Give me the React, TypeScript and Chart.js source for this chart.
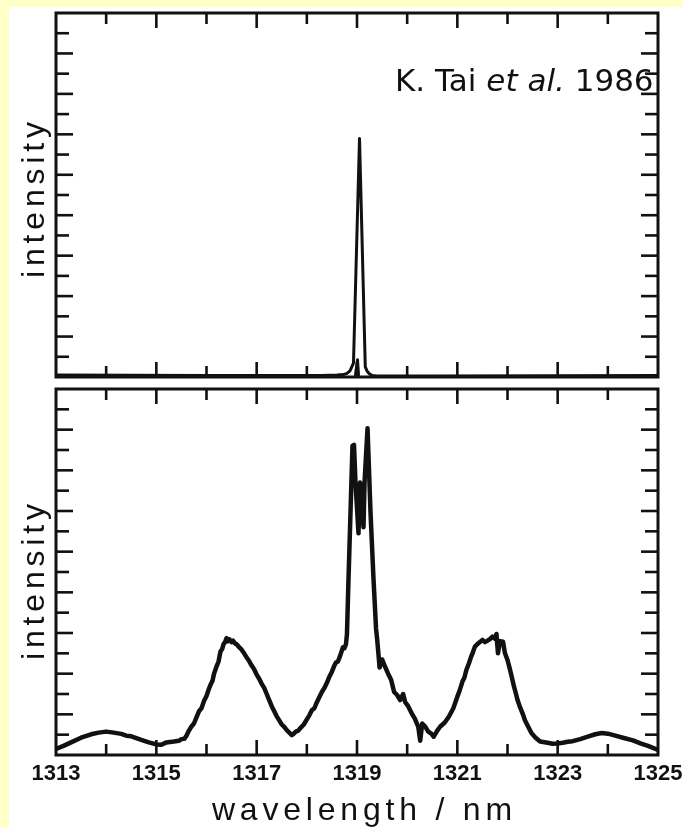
import { useEffect, useRef } from 'react';
import { Chart, registerables } from 'chart.js';

Chart.register(...registerables);

const INK = '#111111';
const PAGE_YELLOW = '#ffffc8';

// Axis ranges shared by both panels
const WAVELENGTH_MIN = 1313;
const WAVELENGTH_MAX = 1325;
const INTENSITY_MIN = 0;
const INTENSITY_MAX = 18;
const WAVELENGTH_TICK_LABELS = [1313, 1315, 1317, 1319, 1321, 1323, 1325];

// Upper panel: single-mode emission line (wavelength nm, intensity)
const singleLine: [number, number][] = [
  [1313, 0.1], [1316, 0.08], [1318.3, 0.08], [1318.6, 0.1], [1318.73, 0.12],
  [1318.8, 0.18], [1318.86, 0.3], [1318.93, 0.69], [1319.05, 11.8], [1319.165, 0.5],
  [1319.2, 0.3], [1319.25, 0.15], [1319.3, 0.08], [1319.4, 0.05], [1320.5, 0.05],
  [1325, 0.08],
];
const singleInner: [number, number][] = [
  [1318.97, 0.1], [1319.01, 0.85], [1319.03, 0.1],
];

// Lower panel: multimode spectrum, side bands and wings
const multiLeftWing: [number, number][] = [
  [1313.0, 0.3], [1313.15, 0.45], [1313.3, 0.62], [1313.5, 0.85], [1313.7, 1.02],
  [1313.85, 1.1], [1314.0, 1.15], [1314.15, 1.1], [1314.3, 1.04], [1314.4, 0.95],
  [1314.5, 0.92], [1314.7, 0.74], [1314.85, 0.62], [1315.0, 0.52], [1315.1, 0.5],
  [1315.2, 0.62], [1315.35, 0.66], [1315.45, 0.7],
];
const multiLeftBand: [number, number][] = [
  [1315.5, 0.78], [1315.56, 0.8], [1315.6, 0.95], [1315.65, 1.2], [1315.7, 1.4],
  [1315.75, 1.55], [1315.8, 1.85], [1315.85, 2.15], [1315.9, 2.3], [1315.95, 2.65],
  [1316.0, 2.9], [1316.04, 3.2], [1316.08, 3.45], [1316.12, 3.65], [1316.15, 4.0],
  [1316.2, 4.35], [1316.24, 4.6], [1316.28, 5.1], [1316.31, 5.2], [1316.34, 5.45],
  [1316.37, 5.55], [1316.4, 5.75], [1316.43, 5.6], [1316.46, 5.68], [1316.5, 5.55],
  [1316.53, 5.62], [1316.57, 5.48], [1316.6, 5.45], [1316.65, 5.3], [1316.7, 5.18],
  [1316.75, 5.0], [1316.8, 4.8], [1316.85, 4.62], [1316.9, 4.4], [1316.95, 4.22],
  [1317.0, 3.95], [1317.05, 3.75], [1317.1, 3.5], [1317.15, 3.3], [1317.2, 3.0],
  [1317.25, 2.7], [1317.3, 2.4], [1317.35, 2.15], [1317.4, 1.9], [1317.45, 1.7],
  [1317.5, 1.5], [1317.55, 1.38], [1317.6, 1.22], [1317.65, 1.1], [1317.7, 0.98],
];
const multiCentre: [number, number][] = [
  [1317.74, 1.05], [1317.78, 1.15], [1317.83, 1.2], [1317.88, 1.35], [1317.94, 1.5],
  [1318.0, 1.75], [1318.05, 1.95], [1318.1, 2.2], [1318.15, 2.3], [1318.2, 2.6],
  [1318.25, 2.85], [1318.3, 3.1], [1318.35, 3.3], [1318.4, 3.55], [1318.45, 3.85],
  [1318.5, 4.1], [1318.54, 4.35], [1318.58, 4.55], [1318.62, 4.6], [1318.66, 4.85],
  [1318.72, 5.3], [1318.75, 5.25], [1318.78, 5.45], [1318.8, 5.95], [1318.83, 8.6],
  [1318.91, 15.2], [1318.94, 15.25], [1318.97, 13.4], [1319.03, 10.9], [1319.06, 13.4],
  [1319.09, 12.8], [1319.13, 11.2], [1319.15, 13.4], [1319.21, 16.07], [1319.27, 11.9],
  [1319.33, 8.6], [1319.38, 6.2], [1319.4, 5.74], [1319.43, 4.9], [1319.45, 4.3],
  [1319.5, 4.7], [1319.55, 4.4], [1319.62, 4.0], [1319.68, 3.7], [1319.74, 3.1],
  [1319.8, 2.95], [1319.86, 2.7], [1319.92, 3.0], [1319.96, 2.6], [1320.02, 2.4],
  [1320.09, 2.05], [1320.15, 1.8], [1320.22, 1.4], [1320.26, 0.7], [1320.3, 1.55],
  [1320.36, 1.4], [1320.42, 1.15], [1320.48, 1.05], [1320.53, 0.9], [1320.6, 1.2],
  [1320.66, 1.4], [1320.75, 1.6], [1320.83, 1.88], [1320.92, 2.3],
];
const multiRightBand: [number, number][] = [
  [1321.0, 2.87], [1321.05, 3.2], [1321.1, 3.6], [1321.14, 3.8], [1321.18, 4.18],
  [1321.23, 4.5], [1321.27, 4.8], [1321.31, 5.05], [1321.35, 5.33], [1321.42, 5.5],
  [1321.5, 5.66], [1321.55, 5.55], [1321.6, 5.62], [1321.65, 5.7], [1321.7, 5.82],
  [1321.75, 5.72], [1321.78, 5.95], [1321.81, 5.0], [1321.85, 5.6], [1321.91, 5.57],
  [1321.95, 5.0], [1322.0, 4.67], [1322.04, 4.3], [1322.07, 4.0], [1322.13, 3.36],
  [1322.17, 3.0], [1322.2, 2.7], [1322.25, 2.35], [1322.3, 2.05], [1322.35, 1.7],
  [1322.4, 1.45], [1322.48, 1.07], [1322.56, 0.85], [1322.65, 0.66],
];
const multiRightWing: [number, number][] = [
  [1322.8, 0.6], [1322.9, 0.55], [1323.0, 0.57], [1323.1, 0.6], [1323.2, 0.65],
  [1323.3, 0.68], [1323.45, 0.78], [1323.6, 0.9], [1323.75, 1.02], [1323.88, 1.08],
  [1324.0, 1.05], [1324.15, 0.95], [1324.3, 0.85], [1324.5, 0.72], [1324.65, 0.57],
  [1324.8, 0.45], [1325.0, 0.25],
];

const toPoints = (rows: [number, number][]) => rows.map(([x, y]) => ({ x, y }));

// Closed frame with inward ticks on all four sides (alternating lengths)
const frameTicks = {
  id: 'frameTicks',
  afterDatasetsDraw(chart: any) {
    const { ctx, chartArea: a, scales } = chart;
    const xs = scales.x;
    const ys = scales.y;
    const seg = (x1: number, y1: number, x2: number, y2: number) => {
      ctx.beginPath();
      ctx.moveTo(x1, y1);
      ctx.lineTo(x2, y2);
      ctx.stroke();
    };
    ctx.save();
    ctx.strokeStyle = INK;
    ctx.lineCap = 'butt';
    ctx.lineWidth = 2.6;
    xs.ticks.forEach((t: any) => {
      if (t.value <= xs.min || t.value >= xs.max) return;
      const px = xs.getPixelForValue(t.value);
      const len = Math.round(t.value - xs.min) % 2 === 0 ? 15 : 11;
      seg(px, a.bottom, px, a.bottom - len);
      seg(px, a.top, px, a.top + len);
    });
    ys.ticks.forEach((t: any) => {
      if (t.value <= ys.min || t.value >= ys.max) return;
      const py = ys.getPixelForValue(t.value);
      const k = Math.round(ys.max - t.value);
      const len = k % 2 === 0 ? 17 : 13;
      seg(a.left, py, a.left + len, py);
      seg(a.right, py, a.right - len, py);
    });
    ctx.lineWidth = 3;
    ctx.lineJoin = 'miter';
    ctx.strokeRect(a.left, a.top, a.right - a.left, a.bottom - a.top);
    ctx.restore();
  },
};

type PanelText = {
  yTitle: string;
  yTitleShift: number;
  xTitle?: string;
  xTitleX?: number;
  xTitleBaseline?: number;
  credit?: boolean;
};

const TITLE_FONT = '32px "Liberation Sans", Arial, sans-serif';
const TITLE_SPACING = 4.8;

const makeTextPlugin = (cfg: PanelText) => ({
  id: 'panelText',
  afterDraw(chart: any) {
    const { ctx, chartArea: a } = chart;
    ctx.save();
    ctx.fillStyle = INK;
    ctx.font = TITLE_FONT;
    ctx.letterSpacing = TITLE_SPACING + 'px';
    ctx.textAlign = 'center';
    ctx.textBaseline = 'alphabetic';

    // vertical axis title
    ctx.save();
    ctx.translate(44, (a.top + a.bottom) / 2 + cfg.yTitleShift);
    ctx.rotate(-Math.PI / 2);
    ctx.fillText(cfg.yTitle, TITLE_SPACING / 2, 0);
    ctx.restore();

    // horizontal axis title
    if (cfg.xTitle) {
      ctx.fillText(cfg.xTitle, (cfg.xTitleX ?? 0) + TITLE_SPACING / 2, cfg.xTitleBaseline ?? 0);
    }

    // source note
    if (cfg.credit) {
      ctx.letterSpacing = '0px';
      ctx.textAlign = 'left';
      const upright = '31px "DejaVu Sans", sans-serif';
      const slanted = 'italic 31px "DejaVu Sans", sans-serif';
      const parts: [string, string][] = [
        ['K. Tai ', upright],
        ['et al.', slanted],
        [' 1986', upright],
      ];
      let x = 395;
      for (const [text, font] of parts) {
        ctx.font = font;
        ctx.fillText(text, x, 91);
        x += ctx.measureText(text).width;
      }
    }
    ctx.restore();
  },
});

const baseOptions = (showLabels: boolean, xAxisHeight: number, padding: any) => ({
  responsive: false,
  animation: false as const,
  devicePixelRatio: 1,
  events: [] as any[],
  layout: { padding },
  plugins: {
    legend: { display: false },
    tooltip: { enabled: false },
    title: { display: false },
  },
  elements: {
    point: { radius: 0 },
    line: { tension: 0, borderJoinStyle: 'round' as const, borderCapStyle: 'round' as const },
  },
  scales: {
    x: {
      type: 'linear' as const,
      min: WAVELENGTH_MIN,
      max: WAVELENGTH_MAX,
      grid: { display: false, drawTicks: false },
      border: { display: false },
      ticks: {
        display: showLabels,
        stepSize: 1,
        autoSkip: false,
        maxRotation: 0,
        padding: 6,
        color: INK,
        font: { family: '"Liberation Sans", Arial, sans-serif', size: 22, weight: 'bold' as const },
        callback: (v: any) => (WAVELENGTH_TICK_LABELS.includes(Number(v)) ? String(v) : ''),
      },
      afterFit: (s: any) => {
        s.height = xAxisHeight;
        s.paddingLeft = 0;
        s.paddingRight = 0;
      },
    },
    y: {
      type: 'linear' as const,
      min: INTENSITY_MIN,
      max: INTENSITY_MAX,
      grid: { display: false, drawTicks: false },
      border: { display: false },
      ticks: { display: false, stepSize: 1 },
      afterFit: (s: any) => {
        s.width = 56;
      },
    },
  },
});

function Panel(props: {
  top: number;
  height: number;
  datasets: any[];
  showLabels: boolean;
  xAxisHeight: number;
  padding: any;
  text: PanelText;
}) {
  const ref = useRef<HTMLCanvasElement>(null);
  useEffect(() => {
    if (!ref.current) return;
    const chart = new Chart(ref.current, {
      type: 'line',
      data: { datasets: props.datasets },
      options: baseOptions(props.showLabels, props.xAxisHeight, props.padding) as any,
      plugins: [frameTicks, makeTextPlugin(props.text)],
    });
    return () => chart.destroy();
  }, []);
  return (
    <canvas
      ref={ref}
      width={683}
      height={props.height}
      style={{ position: 'absolute', left: 0, top: props.top, width: 683, height: props.height }}
    />
  );
}

export default function App() {
  useEffect(() => {
    document.body.style.margin = '0';
  }, []);

  const upper = [
    { data: toPoints(singleLine), borderColor: INK, borderWidth: 3, fill: false },
    { data: toPoints(singleInner), borderColor: INK, borderWidth: 3, fill: false },
  ];
  const lower = [
    {
      data: toPoints([
        ...multiLeftWing,
        ...multiLeftBand,
        ...multiCentre,
        ...multiRightBand,
        ...multiRightWing,
      ]),
      borderColor: INK,
      borderWidth: 4.5,
      fill: false,
    },
  ];

  return (
    <div style={{ position: 'relative', width: 683, height: 828, background: PAGE_YELLOW, overflow: 'hidden' }}>
      <div style={{ position: 'absolute', left: 9, top: 7, right: 0, bottom: 0, background: '#ffffff' }} />
      <Panel
        top={0}
        height={383}
        datasets={upper}
        showLabels={false}
        xAxisHeight={0}
        padding={{ top: 13, bottom: 6, left: 0, right: 25 }}
        text={{ yTitle: 'intensity', yTitleShift: 5, credit: true }}
      />
      <Panel
        top={383}
        height={445}
        datasets={lower}
        showLabels={true}
        xAxisHeight={73}
        padding={{ top: 6, bottom: 0, left: 0, right: 25 }}
        text={{ yTitle: 'intensity', yTitleShift: 10, xTitle: 'wavelength / nm', xTitleX: 362, xTitleBaseline: 437 }}
      />
    </div>
  );
}
